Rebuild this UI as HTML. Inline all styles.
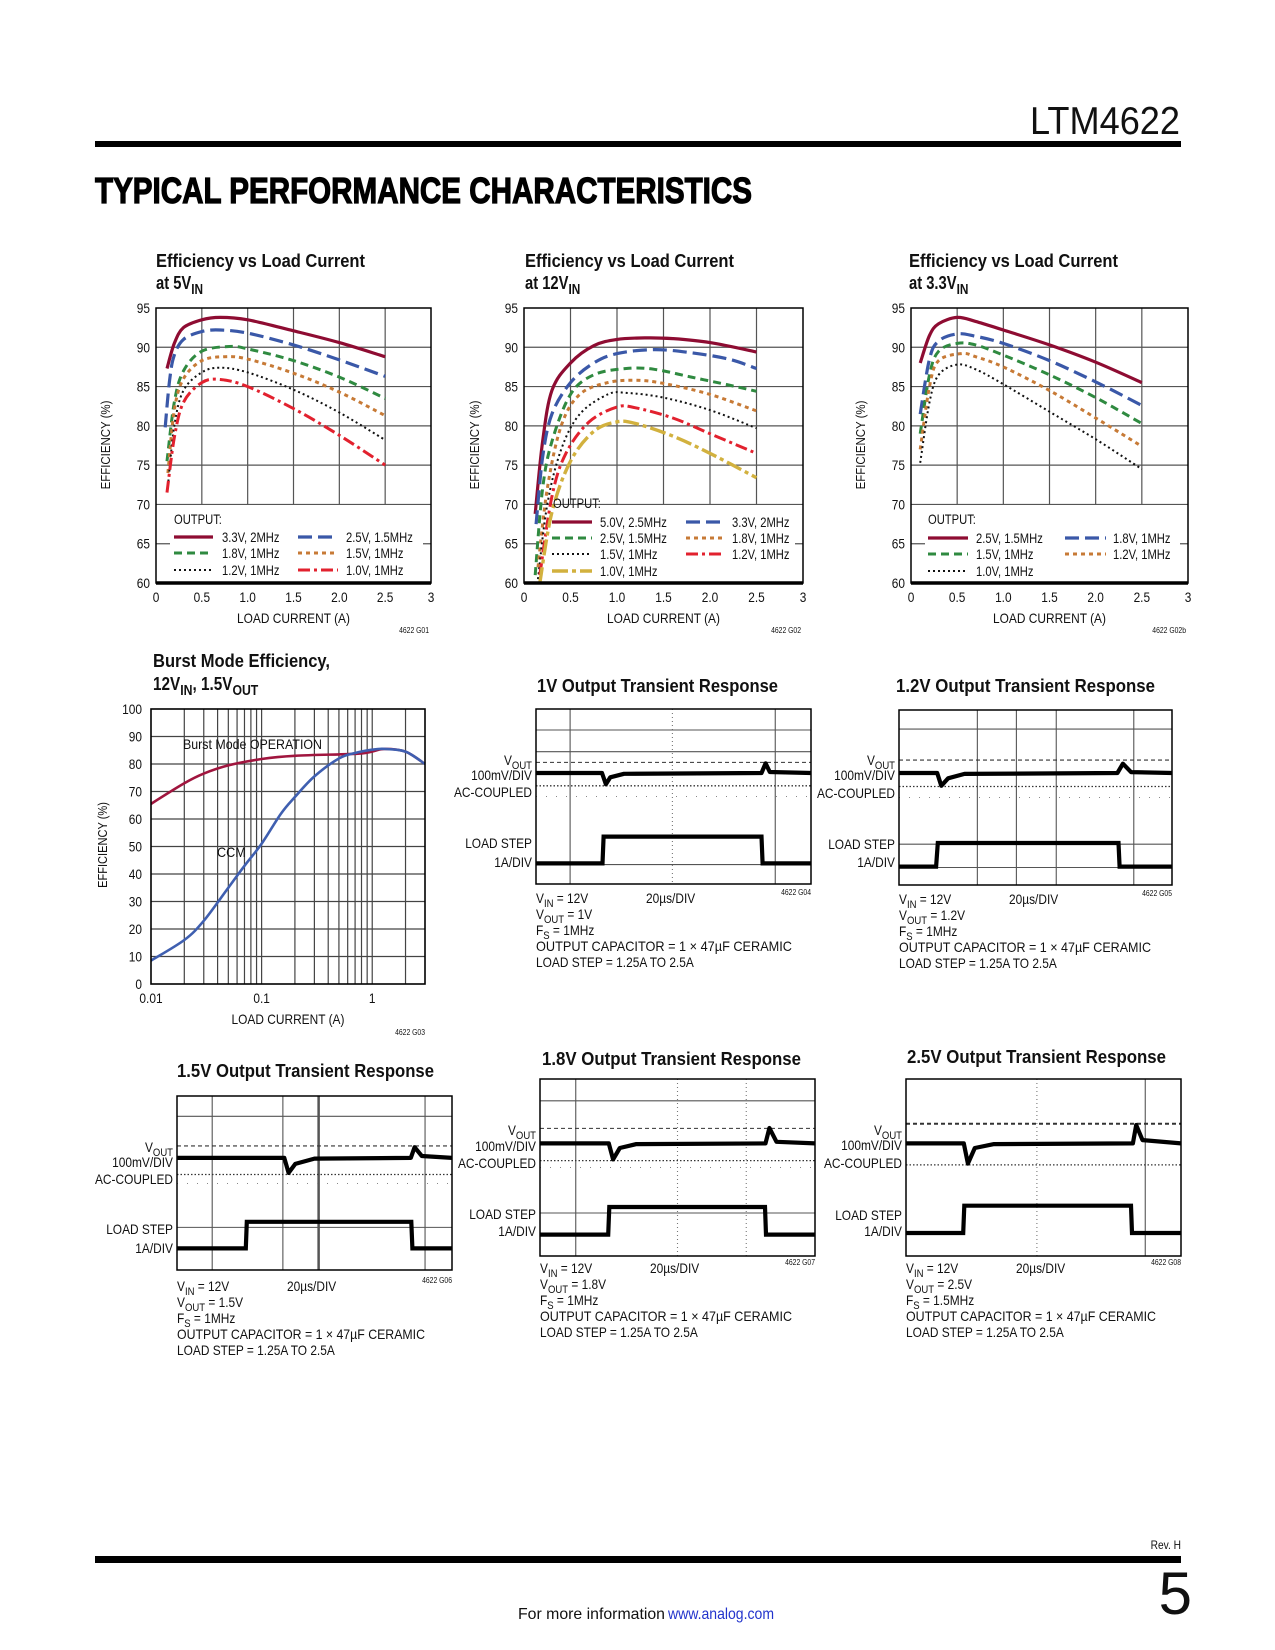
<!DOCTYPE html>
<html><head><meta charset="utf-8">
<style>
html,body{margin:0;padding:0;background:#fff;}
svg{display:block;font-family:"Liberation Sans",sans-serif;}
</style></head>
<body>
<svg id="page" width="1275" height="1650" viewBox="0 0 1275 1650" xmlns="http://www.w3.org/2000/svg"></svg>
<script>
// ===== Chart data: Efficiency vs Load Current at 5VIN =====
const c1Labels = ["3.3V, 2MHz","2.5V, 1.5MHz","1.8V, 1MHz","1.5V, 1MHz","1.2V, 1MHz","1.0V, 1MHz"];
const c1S33x = [0.12,0.2,0.3,0.5,0.7,1.0,1.5,2.0,2.5];
const c1S33y = [87.3,90.5,92.5,93.5,93.8,93.5,92.1,90.6,88.8];
const c1S25x = [0.1,0.15,0.2,0.3,0.5,0.7,1.0,1.5,2.0,2.5];
const c1S25y = [79.8,86,89,91,92,92.2,91.8,90.3,88.4,86.3];
const c1S18x = [0.12,0.2,0.3,0.5,0.8,1.0,1.5,2.0,2.5];
const c1S18y = [75.5,83,87,89.5,90.1,89.8,88.3,86.2,83.5];
const c1S15x = [0.13,0.2,0.3,0.5,0.75,1.0,1.5,2.0,2.5];
const c1S15y = [74,82,86,88.3,88.8,88.5,86.7,84.3,81.3];
const c1S12x = [0.13,0.2,0.3,0.5,0.7,1.0,1.5,2.0,2.5];
const c1S12y = [72.3,80,84.5,86.8,87.4,86.8,84.6,81.7,78.2];
const c1S10x = [0.12,0.2,0.3,0.5,0.7,1.0,1.5,2.0,2.5];
const c1S10y = [71.5,78.5,83,85.5,85.9,85.0,82.2,78.8,75];
// ===== Efficiency at 12VIN =====
const c2Labels = ["5.0V, 2.5MHz","3.3V, 2MHz","2.5V, 1.5MHz","1.8V, 1MHz","1.5V, 1MHz","1.2V, 1MHz","1.0V, 1MHz"];
const c2S50x = [0.12,0.2,0.3,0.5,0.75,1.0,1.3,1.6,2.0,2.5];
const c2S50y = [68.8,78,84.5,88,90.2,91,91.2,91.1,90.6,89.4];
const c2S33x = [0.13,0.2,0.3,0.5,0.75,1.0,1.4,1.8,2.2,2.5];
const c2S33y = [67.5,76,81.5,85.5,88,89.2,89.7,89.3,88.5,87.3];
const c2S25x = [0.12,0.2,0.3,0.5,0.75,1.1,1.4,1.8,2.2,2.5];
const c2S25y = [61,72,78,84,86.5,87.3,87.2,86.2,85.2,84.4];
const c2S18x = [0.15,0.25,0.4,0.6,0.9,1.2,1.5,2.0,2.5];
const c2S18y = [62,72,80,84,85.5,85.8,85.4,84,81.9];
const c2S15x = [0.15,0.25,0.4,0.6,0.9,1.1,1.5,2.0,2.5];
const c2S15y = [60.5,70,77,81.5,84,84.2,83.6,82,79.7];
const c2S12x = [0.17,0.3,0.45,0.7,1.0,1.2,1.6,2.0,2.5];
const c2S12y = [61,71,76.5,80.5,82.4,82.3,81,79,76.5];
const c2S10x = [0.17,0.3,0.5,0.75,1.0,1.2,1.6,2.0,2.5];
const c2S10y = [60,69,75.5,79.3,80.5,80.3,78.7,76.5,73.4];
// ===== Efficiency at 3.3VIN =====
const c3Labels = ["2.5V, 1.5MHz","1.8V, 1MHz","1.5V, 1MHz","1.2V, 1MHz","1.0V, 1MHz"];
const c3S25x = [0.1,0.2,0.3,0.5,0.7,1.0,1.5,2.0,2.5];
const c3S25y = [88,91.5,93,93.8,93.3,92.2,90.3,88.1,85.5];
const c3S18x = [0.1,0.2,0.3,0.5,0.7,1.0,1.5,2.0,2.5];
const c3S18y = [81.5,88.5,90.8,91.7,91.4,90.5,88.3,85.6,82.6];
const c3S15x = [0.1,0.2,0.3,0.5,0.7,1.0,1.5,2.0,2.5];
const c3S15y = [79,86.5,89.5,90.5,90.3,89,86.5,83.6,80.3];
const c3S12x = [0.1,0.2,0.3,0.55,0.7,1.0,1.5,2.0,2.5];
const c3S12y = [77,85,88.3,89.2,88.8,87.5,84.5,81,77.4];
const c3S10x = [0.1,0.2,0.3,0.5,0.7,1.0,1.5,2.0,2.5];
const c3S10y = [75.3,83,86.5,87.8,87.2,85.3,81.8,78.3,74.5];
const effYTicks = ["60","65","70","75","80","85","90","95"];
const effXTicks = ["0","0.5","1.0","1.5","2.0","2.5","3"];
// ===== Burst Mode efficiency =====
const burstX = [0.01,0.02,0.03,0.05,0.1,0.2,0.5,0.8,1,1.3,2,3];
const burstY = [65.5,73,76.5,79.5,81.8,83,83.5,83.8,84.5,85.5,84.5,80];
const ccmX = [0.01,0.02,0.03,0.05,0.07,0.1,0.15,0.2,0.3,0.5,0.7,1,1.3,2,3];
const ccmY = [8.5,16,23,35,43,51,62,68,75.5,82,84,85.2,85.5,84.5,80];
const burstYTicks = ["0","10","20","30","40","50","60","70","80","90","100"];
const burstXTicks = ["0.01","0.1","1"];
// ===== Scope traces (time fraction, level fraction) =====
const s1VoutT = [0,.24,.254,.27,.32,.82,.835,.85,1];
const s1VoutV = [.366,.366,.43,.39,.37,.366,.31,.36,.366];
const s1LoadT = [0,.242,.246,.82,.824,1];
const s1LoadV = [.882,.882,.729,.729,.882,.882];
const s2VoutT = [0,.14,.155,.18,.24,.8,.82,.85,1];
const s2VoutV = [.36,.36,.433,.39,.365,.36,.307,.355,.36];
const s2LoadT = [0,.136,.142,.804,.808,1];
const s2LoadV = [.895,.895,.76,.76,.895,.895];
const s3VoutT = [0,.39,.406,.43,.5,.85,.864,.89,1];
const s3VoutV = [.356,.356,.442,.39,.36,.356,.294,.345,.356];
const s3LoadT = [0,.25,.254,.852,.856,1];
const s3LoadV = [.876,.876,.723,.723,.876,.876];
const s4VoutT = [0,.25,.266,.29,.35,.82,.834,.86,1];
const s4VoutV = [.364,.364,.454,.39,.368,.364,.277,.355,.364];
const s4LoadT = [0,.248,.252,.818,.822,1];
const s4LoadV = [.879,.879,.723,.723,.879,.879];
const s5VoutT = [0,.21,.225,.25,.32,.825,.837,.86,1];
const s5VoutV = [.364,.364,.478,.39,.368,.364,.26,.345,.364];
const s5LoadT = [0,.208,.212,.818,.822,1];
const s5LoadV = [.87,.87,.716,.716,.87,.87];

const NS = "http://www.w3.org/2000/svg";
const svg = document.getElementById('page');
function mk(tag, name, attrs, parent){
  const el = document.createElementNS(NS, tag);
  for (const k in attrs) el.setAttribute(k, attrs[k]);
  
  
  (parent||svg).appendChild(el);
  return el;
}
function txt(name, x, y, s, o){
  o = o||{};
  const el = mk('text', name, {x:x, y:y, 'font-size':o.fs||14, 'text-anchor':o.anchor||'start', 'font-weight':o.fw||'normal', fill:o.fill||'#111'}, o.parent);
  if (o.fi) el.setAttribute('font-style', o.fi);
  if (o.stroke) { el.setAttribute('stroke', o.fill||'#000'); el.setAttribute('stroke-width', o.stroke); }
  if (o.rot) el.setAttribute('transform', 'rotate(' + o.rot + ' ' + x + ' ' + y + ')');
  const parts = Array.isArray(s) ? s : [[s]];
  parts.forEach(p => {
    const t = document.createElementNS(NS, 'tspan');
    t.textContent = p[0];
    if (p[1]) { t.setAttribute('font-size', (o.fs||14)*0.8); t.setAttribute('dy', (o.fs||14)*0.28); }
    else if (el.childNodes.length) { t.setAttribute('dy', -(o.fs||14)*0.28); }
    el.appendChild(t);
  });
  if (o.w) { el.setAttribute('textLength', o.w); el.setAttribute('lengthAdjust', 'spacingAndGlyphs'); }
  else if (o.sx) {
    const L = el.getComputedTextLength();
    if (L > 0) { el.setAttribute('textLength', (L*o.sx).toFixed(1)); el.setAttribute('lengthAdjust', 'spacingAndGlyphs'); }
  }
  return el;
}
function smooth(pts){
  let d = 'M' + pts[0][0].toFixed(1) + ',' + pts[0][1].toFixed(1);
  for (let i=0;i<pts.length-1;i++){
    const p0=pts[Math.max(0,i-1)], p1=pts[i], p2=pts[i+1], p3=pts[Math.min(pts.length-1,i+2)];
    const c1=[p1[0]+(p2[0]-p0[0])/6, p1[1]+(p2[1]-p0[1])/6];
    const c2=[p2[0]-(p3[0]-p1[0])/6, p2[1]-(p3[1]-p1[1])/6];
    d += 'C'+c1[0].toFixed(1)+','+c1[1].toFixed(1)+' '+c2[0].toFixed(1)+','+c2[1].toFixed(1)+' '+p2[0].toFixed(1)+','+p2[1].toFixed(1);
  }
  return d;
}
const ST = {
  solid:{stroke:'#8e0c32', w:3.2, dash:''},
  blue:{stroke:'#3a58a8', w:3.2, dash:'14,6'},
  green:{stroke:'#2f8a40', w:3, dash:'8,5'},
  orange:{stroke:'#c77a36', w:3, dash:'4,4'},
  black:{stroke:'#111', w:2, dash:'2,3'},
  reddd:{stroke:'#e2212e', w:3, dash:'12,4,3,4'},
  yellow:{stroke:'#d2b13e', w:3.4, dash:'16,4,4,4'}
};

// ===== Header =====
txt('part-number', 1180, 134, 'LTM4622', {fs:39, anchor:'end', w:150});
mk('rect', 'header-rule', {x:95, y:141, width:1086, height:6, fill:'#000'});
txt('section-title', 95, 203, 'TYPICAL PERFORMANCE CHARACTERISTICS', {fs:36, fw:'bold', w:657, fill:'#000', stroke:1.2});

// ===== Efficiency charts =====
function effChart(id, L, T, R, B, title1, title2, tx, ytx, series, legend){
  const g = mk('g', id, {});
  const X = v => L + v/3*(R-L);
  const Y = v => B - (v-60)/35*(B-T);
  txt(id+'-title', tx, 267, title1, {fs:18, fw:'bold', w:209, parent:g});
  txt(id+'-subtitle', tx, 289, title2, {fs:18, fw:'bold', parent:g, sx:0.82});
  for (let i=1;i<7;i++){
    const v = 60+i*5;
    mk('line', id+'-hgrid', {x1:L, x2:R, y1:Y(v), y2:Y(v), stroke:'#555', 'stroke-width':1.2}, g);
  }
  for (let i=1;i<6;i++){
    mk('line', id+'-vgrid', {x1:X(i*0.5), x2:X(i*0.5), y1:T, y2:Y(70), stroke:'#555', 'stroke-width':1.2}, g);
  }
  mk('rect', id+'-legend-bg', {x:L+14, y:Y(70)+1.5, width:R-L-22, height:B-Y(70)-3, fill:'#fff'}, g);
  effYTicks.forEach((t,i)=>txt(id+'-ytick', L-6, Y(60+i*5)+5, t, {fs:14, anchor:'end', parent:g, sx:0.85}));
  effXTicks.forEach((t,i)=>txt(id+'-xtick', X(i*0.5), B+19, t, {fs:14, anchor:'middle', parent:g, sx:0.85}));
  txt(id+'-x-axis-title', (L+R)/2, B+40, 'LOAD CURRENT (A)', {fs:14, anchor:'middle', parent:g, sx:0.85});
  txt(id+'-y-axis-title', ytx, 445, 'EFFICIENCY (%)', {fs:13, anchor:'middle', rot:-90, parent:g, sx:0.88});
  series.forEach(s=>{
    const pts = s.x.map((v,i)=>[X(v), Y(s.y[i])]);
    mk('path', id+'-series-'+s.key, {d:smooth(pts), fill:'none', stroke:s.st.stroke, 'stroke-width':s.st.w, 'stroke-dasharray':s.st.dash}, g);
  });
  mk('rect', id+'-plot-frame', {x:L, y:T, width:R-L, height:B-T, fill:'none', stroke:'#000', 'stroke-width':1.5}, g);
  mk('line', id+'-x-axis', {x1:L, x2:R, y1:B, y2:B, stroke:'#000', 'stroke-width':3.5}, g);
  txt(id+'-legend-heading', legend.ox, legend.oy+5, 'OUTPUT:', {fs:14, parent:g, sx:0.8});
  series.forEach((s,i)=>{
    const col = i%2, row = Math.floor(i/2);
    const ly = legend.rows[row];
    const lx = legend.cols[col];
    mk('line', id+'-legend-swatch', {x1:lx[0], x2:lx[1], y1:ly, y2:ly, stroke:s.st.stroke, 'stroke-width':s.st.w, 'stroke-dasharray':s.st.dash}, g);
    txt(id+'-legend-entry', lx[2], ly+5, s.label, {fs:14, parent:g, sx:0.8});
  });
  txt(id+'-figure-id', R-2, B+50, legend.fig, {fs:8, anchor:'end', parent:g, sx:0.85});
}
effChart('chart-eff-5vin', 156, 308, 431, 583, 'Efficiency vs Load Current', [['at 5V'],['IN',1]], 156, 110, [
  {key:'3v3', x:c1S33x, y:c1S33y, st:ST.solid, label:c1Labels[0]},
  {key:'2v5', x:c1S25x, y:c1S25y, st:ST.blue, label:c1Labels[1]},
  {key:'1v8', x:c1S18x, y:c1S18y, st:ST.green, label:c1Labels[2]},
  {key:'1v5', x:c1S15x, y:c1S15y, st:ST.orange, label:c1Labels[3]},
  {key:'1v2', x:c1S12x, y:c1S12y, st:ST.black, label:c1Labels[4]},
  {key:'1v0', x:c1S10x, y:c1S10y, st:ST.reddd, label:c1Labels[5]}
], {ox:174, oy:519, rows:[537,553,570], cols:[[174,213,222],[298,338,346]], fig:'4622 G01'});
effChart('chart-eff-12vin', 524, 308, 803, 583, 'Efficiency vs Load Current', [['at 12V'],['IN',1]], 525, 479, [
  {key:'5v0', x:c2S50x, y:c2S50y, st:ST.solid, label:c2Labels[0]},
  {key:'3v3', x:c2S33x, y:c2S33y, st:ST.blue, label:c2Labels[1]},
  {key:'2v5', x:c2S25x, y:c2S25y, st:ST.green, label:c2Labels[2]},
  {key:'1v8', x:c2S18x, y:c2S18y, st:ST.orange, label:c2Labels[3]},
  {key:'1v5', x:c2S15x, y:c2S15y, st:ST.black, label:c2Labels[4]},
  {key:'1v2', x:c2S12x, y:c2S12y, st:ST.reddd, label:c2Labels[5]},
  {key:'1v0', x:c2S10x, y:c2S10y, st:ST.yellow, label:c2Labels[6]}
], {ox:553, oy:503, rows:[522,538,554,571], cols:[[552,592,600],[686,724,732]], fig:'4622 G02'});
effChart('chart-eff-3v3in', 911, 308, 1188, 583, 'Efficiency vs Load Current', [['at 3.3V'],['IN',1]], 909, 865, [
  {key:'2v5', x:c3S25x, y:c3S25y, st:ST.solid, label:c3Labels[0]},
  {key:'1v8', x:c3S18x, y:c3S18y, st:ST.blue, label:c3Labels[1]},
  {key:'1v5', x:c3S15x, y:c3S15y, st:ST.green, label:c3Labels[2]},
  {key:'1v2', x:c3S12x, y:c3S12y, st:ST.orange, label:c3Labels[3]},
  {key:'1v0', x:c3S10x, y:c3S10y, st:ST.black, label:c3Labels[4]}
], {ox:928, oy:519, rows:[538,554,571], cols:[[928,968,976],[1065,1106,1113]], fig:'4622 G02b'});

// ===== Burst Mode chart =====
(function(){
  const L=151,T=709,R=425,B=984;
  const g = mk('g', 'chart-burst-mode', {});
  const lmin=Math.log10(0.01), lmax=Math.log10(3);
  const X = v => L + (Math.log10(v)-lmin)/(lmax-lmin)*(R-L);
  const Y = v => B - v/100*(B-T);
  txt('burst-title', 153, 667, 'Burst Mode Efficiency,', {fs:18, fw:'bold', w:177, parent:g});
  txt('burst-subtitle', 153, 690, [['12V'],['IN',1],[', 1.5V'],['OUT',1]], {fs:18, fw:'bold', parent:g, sx:0.85});
  for (let i=1;i<10;i++) mk('line','burst-hgrid',{x1:L,x2:R,y1:Y(i*10),y2:Y(i*10),stroke:'#444','stroke-width':1.2},g);
  [0.01,0.1,1].forEach(dec=>{ for(let k=1;k<10;k++){ const v=dec*k; if(v<=0.01||v>=3) continue;
    mk('line','burst-vgrid',{x1:X(v),x2:X(v),y1:T,y2:B,stroke:'#444','stroke-width':1.2},g);} });
  txt('burst-mode-label', 183, 749, 'Burst Mode OPERATION', {fs:14, w:139, parent:g});
  txt('ccm-label', 217, 857, 'CCM', {fs:14, parent:g, sx:0.9});
  mk('path','burst-mode-series',{d:smooth(burstX.map((v,i)=>[X(v),Y(burstY[i])])),fill:'none',stroke:'#a0153e','stroke-width':2.6},g);
  mk('path','ccm-series',{d:smooth(ccmX.map((v,i)=>[X(v),Y(ccmY[i])])),fill:'none',stroke:'#3f5fb0','stroke-width':2.6},g);
  mk('rect','burst-plot-frame',{x:L,y:T,width:R-L,height:B-T,fill:'none',stroke:'#000','stroke-width':1.6},g);
  burstYTicks.forEach((t,i)=>txt('burst-ytick', 142, Y(i*10)+5, t, {fs:14, anchor:'end', parent:g, sx:0.85}));
  burstXTicks.forEach((t,i)=>txt('burst-xtick', X(Math.pow(10,i-2)), 1003, t, {fs:14, anchor:'middle', parent:g, sx:0.85}));
  txt('burst-x-axis-title', 288, 1024, 'LOAD CURRENT (A)', {fs:14, anchor:'middle', parent:g, sx:0.85});
  txt('burst-y-axis-title', 107, 845, 'EFFICIENCY (%)', {fs:13, anchor:'middle', rot:-90, parent:g, sx:0.85});
  txt('burst-figure-id', 425, 1035, '4622 G03', {fs:8, anchor:'end', parent:g, sx:0.85});
})();

// ===== Scope shots =====
function scope(c){
  const g = mk('g', c.id, {});
  const X = f => c.L + f*c.W, Y = f => c.T + f*c.H;
  txt(c.id+'-title', c.tx, c.ty, c.title, {fs:18, fw:'bold', w:c.tw, parent:g});
  c.v.forEach(v=>mk('line',c.id+'-vgrid',{x1:X(v[0]),x2:X(v[0]),y1:c.T,y2:c.T+c.H,stroke:v[1]?'#777':'#555','stroke-width':v[2]||1.1,'stroke-dasharray':v[1]?'1,3':''},g));
  c.h.forEach(h=>mk('line',c.id+'-hgrid',{x1:c.L,x2:c.L+c.W,y1:Y(h),y2:Y(h),stroke:'#555','stroke-width':1.1},g));
  mk('line',c.id+'-ref-dashed',{x1:c.L,x2:c.L+c.W,y1:Y(c.dash),y2:Y(c.dash),stroke:'#333','stroke-width':c.dashW||1.1,'stroke-dasharray':'4,3'},g);
  mk('line',c.id+'-ref-dotted',{x1:c.L,x2:c.L+c.W,y1:Y(c.dot),y2:Y(c.dot),stroke:'#333','stroke-width':1.3,'stroke-dasharray':'1.5,2'},g);
  if (c.dots) mk('line',c.id+'-ref-dots',{x1:c.L,x2:c.L+c.W,y1:Y(c.dots),y2:Y(c.dots),stroke:'#888','stroke-width':1,'stroke-dasharray':'1,9'},g);
  mk('polyline',c.id+'-vout-trace',{points:c.vt.map((t,i)=>X(t).toFixed(1)+','+Y(c.vv[i]).toFixed(1)).join(' '),fill:'none',stroke:'#000','stroke-width':4.2,'stroke-linejoin':'round'},g);
  mk('polyline',c.id+'-load-trace',{points:c.lt.map((t,i)=>X(t).toFixed(1)+','+Y(c.lv[i]).toFixed(1)).join(' '),fill:'none',stroke:'#000','stroke-width':4.2},g);
  mk('rect',c.id+'-frame',{x:c.L,y:c.T,width:c.W,height:c.H,fill:'none',stroke:'#000','stroke-width':1.5},g);
  const lx = c.L-4, ly=c.ly;
  txt(c.id+'-vout-label', lx, ly[0]+5, [['V'],['OUT',1]], {fs:14, anchor:'end', parent:g, sx:0.85});
  txt(c.id+'-vout-scale', lx, ly[1]+5, '100mV/DIV', {fs:14, anchor:'end', parent:g, sx:0.85});
  txt(c.id+'-coupling', lx, ly[2]+5, 'AC-COUPLED', {fs:14, anchor:'end', parent:g, sx:0.85});
  txt(c.id+'-load-label', lx, ly[3]+5, 'LOAD STEP', {fs:14, anchor:'end', parent:g, sx:0.85});
  txt(c.id+'-load-scale', lx, ly[4]+5, '1A/DIV', {fs:14, anchor:'end', parent:g, sx:0.85});
  const n = c.ny, nx = c.L;
  txt(c.id+'-note-vin', nx, n+5, [['V'],['IN',1],[' = 12V']], {fs:14, parent:g, sx:0.85});
  txt(c.id+'-note-timebase', nx+110, n+5, '20µs/DIV', {fs:14, parent:g, sx:0.85});
  txt(c.id+'-figure-id', c.L+c.W, n-3, c.fig, {fs:8, anchor:'end', parent:g, sx:0.85});
  txt(c.id+'-note-vout', nx, n+21, [['V'],['OUT',1],[' = '+c.vo]], {fs:14, parent:g, sx:0.85});
  txt(c.id+'-note-fs', nx, n+37, [['F'],['S',1],[' = '+c.fs]], {fs:14, parent:g, sx:0.85});
  txt(c.id+'-note-cap', nx, n+53, 'OUTPUT CAPACITOR = 1 × 47µF  CERAMIC', {fs:14, parent:g, w:c.capw||256});
  txt(c.id+'-note-load', nx, n+69, 'LOAD STEP = 1.25A TO 2.5A', {fs:14, parent:g, sx:0.85});
}
scope({id:'scope-1v', L:536,T:709,W:275,H:175, title:'1V Output Transient Response', tx:537, ty:692, tw:241,
  v:[[.124,0],[.496,1],[.87,0]], h:[.12,.244,.889], dash:.305, dot:.439, dots:.5,
  vt:s1VoutT, vv:s1VoutV, lt:s1LoadT, lv:s1LoadV, ly:[760,775,792,843,862], ny:898, vo:'1V', fs:'1MHz', fig:'4622 G04'});
scope({id:'scope-1v2', L:899,T:710,W:273,H:175, title:'1.2V Output Transient Response', tx:896, ty:692, tw:259,
  v:[[.287,0],[.43,0],[.576,0],[.86,0]], h:[.109,.767,.9], dash:.286, dot:.437, dots:.5,
  vt:s2VoutT, vv:s2VoutV, lt:s2LoadT, lv:s2LoadV, ly:[760,775,793,844,862], ny:899, vo:'1.2V', fs:'1MHz', fig:'4622 G05', capw:252});
scope({id:'scope-1v5', L:177,T:1096,W:275,H:174, title:'1.5V Output Transient Response', tx:177, ty:1077, tw:257,
  v:[[.128,0],[.385,0],[.515,0,2.5],[.902,0]], h:[.117,.755], dash:.287, dot:.451, dots:.503,
  vt:s3VoutT, vv:s3VoutV, lt:s3LoadT, lv:s3LoadV, ly:[1147,1162,1179,1229,1248], ny:1286, vo:'1.5V', fs:'1MHz', fig:'4622 G06', capw:248});
scope({id:'scope-1v8', L:540,T:1079,W:275,H:177, title:'1.8V Output Transient Response', tx:542, ty:1065, tw:259,
  v:[[.13,0],[.5,1],[.75,1]], h:[.123,.757], dash:.279, dot:.461, dots:.5,
  vt:s4VoutT, vv:s4VoutV, lt:s4LoadT, lv:s4LoadV, ly:[1130,1146,1163,1214,1231], ny:1268, vo:'1.8V', fs:'1MHz', fig:'4622 G07', capw:252});
scope({id:'scope-2v5', L:906,T:1079,W:275,H:177, title:'2.5V Output Transient Response', tx:907, ty:1063, tw:259,
  v:[[.476,1],[.87,0]], h:[], dash:.253, dashW:2, dot:.485, dots:0,
  vt:s5VoutT, vv:s5VoutV, lt:s5LoadT, lv:s5LoadV, ly:[1130,1145,1163,1215,1231], ny:1268, vo:'2.5V', fs:'1.5MHz', fig:'4622 G08', capw:250});

// ===== Footer =====
txt('revision', 1181, 1549, 'Rev. H', {fs:12, anchor:'end', sx:0.85});
mk('rect', 'footer-rule', {x:95, y:1556, width:1086, height:7, fill:'#000'});
txt('page-number', 1192, 1614, '5', {fs:60, anchor:'end'});
txt('footer-info', 518, 1619, 'For more information ', {fs:16, w:147});
const link = txt('footer-link', 668, 1619, 'www.analog.com', {fs:16, fill:'#2233cc', w:106});

</script>
</body></html>
